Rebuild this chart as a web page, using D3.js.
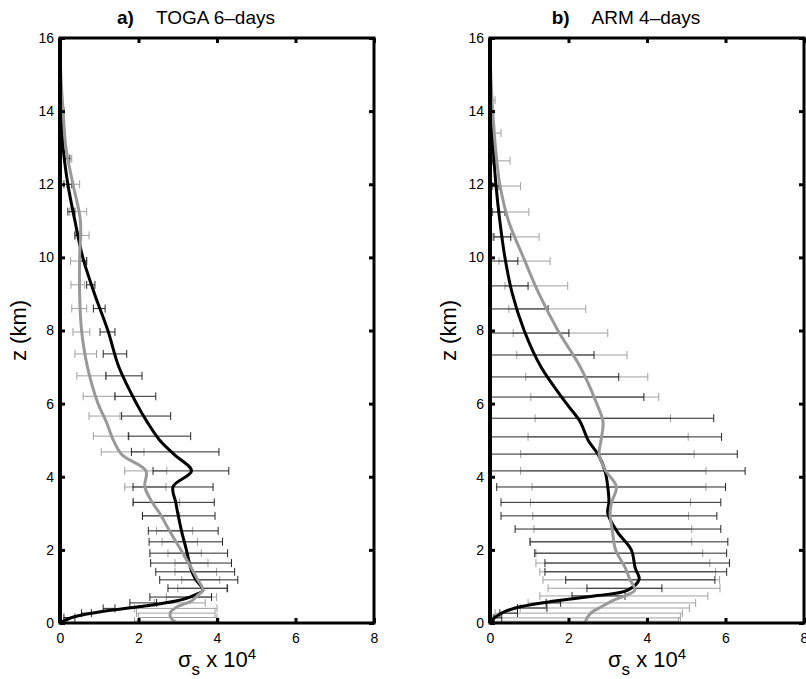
<!DOCTYPE html>
<html lang="en">
<head>
<meta charset="UTF-8">
<title>sigma_s profiles</title>
<script src="https://cdnjs.cloudflare.com/ajax/libs/d3/7.8.5/d3.min.js"></script>
<style>
    body { margin: 0; background: #fff; }
    text { font-family: "Liberation Sans", Arial, sans-serif; fill: #000; }
</style>
</head>
<body>
<div id="chart"></div>
<script>
// ---- data ----
var lineZ = [16, 15, 14, 13, 12, 11, 10, 9, 8, 7, 6, 5.5, 5, 4.6, 4.16, 3.73, 3.3, 3.0, 2.5, 2.0, 1.5, 1.2, 0.9, 0.75, 0.6, 0.45, 0.3, 0.15, 0];

var togaBlack = [0, 0.01, 0.03, 0.08, 0.2, 0.38, 0.58, 0.88, 1.22, 1.5, 1.95, 2.22, 2.54, 2.92, 3.35, 2.88, 2.95, 3.0, 3.1, 3.22, 3.33, 3.45, 3.64, 3.4, 2.95, 2.04, 1.0, 0.3, 0];
var togaGray  = [0, 0.02, 0.08, 0.15, 0.33, 0.52, 0.5, 0.5, 0.55, 0.7, 0.97, 1.18, 1.36, 1.58, 2.19, 2.16, 2.35, 2.54, 2.8, 3.08, 3.35, 3.5, 3.64, 3.5, 3.35, 3.0, 2.82, 2.82, 2.97];

var armBlack = [0, 0.01, 0.02, 0.08, 0.15, 0.25, 0.38, 0.57, 0.87, 1.3, 1.95, 2.3, 2.5, 2.76, 2.93, 3.0, 3.03, 3.0, 3.24, 3.6, 3.7, 3.8, 3.51, 2.75, 1.65, 0.8, 0.35, 0.12, 0];
var armGray  = [0, 0.02, 0.07, 0.14, 0.25, 0.47, 0.85, 1.25, 1.73, 2.3, 2.72, 2.88, 2.83, 2.78, 2.95, 3.22, 3.1, 3.06, 3.12, 3.2, 3.45, 3.56, 3.69, 3.45, 3.1, 2.85, 2.6, 2.48, 2.42];

// error bar levels and ranges
var togaBarZ     = [14.0, 12.7, 12.0, 11.25, 10.6, 9.9, 9.25, 8.6, 7.96, 7.36, 6.76, 6.2, 5.66, 5.11, 4.68, 4.16, 3.72, 3.3, 2.93, 2.52, 2.22, 1.91, 1.64, 1.4, 1.18, 0.95, 0.71, 0.55, 0.4, 0.27, 0.15, 0.05];
var togaBlackLo  = [0.0, 0.1, 0.1, 0.2, 0.38, 0.5, 0.68, 0.85, 1.02, 1.1, 1.17, 1.4, 1.57, 1.74, 1.82, 2.37, 1.86, 1.86, 2.1, 2.25, 2.27, 2.29, 2.31, 2.44, 2.54, 2.75, 2.29, 1.78, 1.1, 0.55, 0.1, 0.02];
var togaBlackHi  = [0.1, 0.25, 0.3, 0.38, 0.55, 0.68, 0.89, 1.15, 1.4, 1.7, 2.09, 2.44, 2.82, 3.33, 4.05, 4.3, 3.9, 3.93, 3.95, 4.03, 4.14, 4.27, 4.37, 4.45, 4.53, 4.27, 3.86, 2.46, 1.4, 0.8, 0.38, 0.1];
var togaGrayLo   = [0.0, 0.13, 0.17, 0.25, 0.38, 0.27, 0.28, 0.3, 0.33, 0.38, 0.43, 0.59, 0.74, 0.85, 1.05, 1.65, 1.65, 1.87, 2.1, 2.46, 2.6, 2.75, 2.93, 2.93, 3.1, 3.0, 2.71, 2.4, 1.9, 1.95, 2.0, 1.9];
var togaGrayHi   = [0.08, 0.3, 0.5, 0.68, 0.74, 0.68, 0.63, 0.68, 0.76, 0.93, 1.17, 1.4, 1.53, 1.76, 2.14, 2.72, 2.7, 3.05, 3.05, 3.38, 3.5, 3.6, 3.77, 3.99, 4.07, 4.24, 3.99, 3.7, 4.0, 3.95, 4.0, 4.05];

var armBarZ      = [14.3, 13.4, 12.64, 11.95, 11.24, 10.56, 9.9, 9.22, 8.59, 7.93, 7.33, 6.73, 6.18, 5.6, 5.09, 4.62, 4.16, 3.72, 3.3, 2.93, 2.57, 2.22, 1.91, 1.64, 1.4, 1.18, 0.95, 0.74, 0.55, 0.41, 0.27, 0.14, 0.05];
var armBlackLo   = [0.0, 0.0, 0.05, 0.05, 0.05, 0.1, -0.3, -0.3, -0.3, -0.3, -0.3, -0.3, -0.3, -0.3, -0.3, -0.3, -0.3, 0.17, 0.28, 0.28, 0.64, 1.02, 1.14, 1.4, 1.4, 1.93, 2.47, 2.09, 1.43, 0.7, 0.25, 0.1, 0.02];
var armBlackHi   = [0.05, 0.1, 0.15, 0.23, 0.38, 0.53, 0.71, 0.97, 1.48, 2.01, 2.65, 3.28, 3.92, 5.7, 5.9, 6.3, 6.5, 6.0, 5.88, 5.78, 5.88, 6.06, 6.03, 6.1, 6.03, 5.73, 4.38, 3.44, 1.8, 1.45, 0.7, 0.3, 0.1];
var armGrayLo    = [0.02, 0.05, 0.05, 0.07, 0.07, 0.07, 0.23, 0.38, 0.48, 0.59, 0.68, 0.91, 1.04, 1.15, 0.97, 0.78, 0.78, 1.07, 1.03, 1.09, 1.12, 1.02, 1.17, 1.17, 1.27, 1.35, 1.48, 1.27, 0.97, 0.77, 0.13, 0.05, 0.02];
var armGrayHi    = [0.13, 0.28, 0.51, 0.78, 0.99, 1.25, 1.53, 1.98, 2.44, 3.0, 3.49, 4.02, 4.3, 4.6, 5.05, 5.2, 5.5, 5.5, 5.11, 5.06, 5.14, 5.14, 5.42, 5.6, 5.75, 5.85, 5.86, 5.55, 5.24, 5.08, 4.9, 4.85, 4.8];

var xTicks = [0, 2, 4, 6, 8];
var yTicks = [0, 2, 4, 6, 8, 10, 12, 14, 16];

var panels = [
    { id: 'a', tag: 'a)', name: 'TOGA 6\u2013days', left: 60,
      black: togaBlack, gray: togaGray,
      barZ: togaBarZ, bLo: togaBlackLo, bHi: togaBlackHi, gLo: togaGrayLo, gHi: togaGrayHi },
    { id: 'b', tag: 'b)', name: 'ARM 4\u2013days', left: 490,
      black: armBlack, gray: armGray,
      barZ: armBarZ, bLo: armBlackLo, bHi: armBlackHi, gLo: armGrayLo, gHi: armGrayHi }
];

var w = 806, h = 679,
    pw = 314, padTop = 38, padBottom = 623,
    grayCol = '#a0a0a0', capH = 4;

var svg = d3.select('#chart').append('svg')
    .attr('width', w).attr('height', h);

panels.forEach(function (p) {
    var ih = padBottom - padTop;
    var x = d3.scaleLinear().domain([0, 8]).range([0, pw]);
    var y = d3.scaleLinear().domain([0, 16]).range([ih, 0]);

    var g = svg.append('g').attr('transform', 'translate(' + p.left + ',' + padTop + ')');

    g.append('clipPath').attr('id', 'clip-' + p.id)
        .append('rect').attr('width', pw).attr('height', ih);

    var plot = g.append('g').attr('clip-path', 'url(#clip-' + p.id + ')');

    // error bars: gray then black
    function bars(lo, hi, col, sw) {
        var bg = plot.append('g').attr('stroke', col).attr('stroke-width', sw).attr('fill', 'none');
        p.barZ.forEach(function (z, i) {
            var yy = y(z), x1 = x(lo[i]), x2 = x(hi[i]);
            bg.append('line').attr('x1', x1).attr('x2', x2).attr('y1', yy).attr('y2', yy);
            bg.append('line').attr('x1', x1).attr('x2', x1).attr('y1', yy - capH).attr('y2', yy + capH);
            bg.append('line').attr('x1', x2).attr('x2', x2).attr('y1', yy - capH).attr('y2', yy + capH);
        });
    }
    bars(p.gLo, p.gHi, grayCol, 1);
    bars(p.bLo, p.bHi, '#111', 0.9);

    var line = function (vals) {
        return d3.line()
            .x(function (d, i) { return x(vals[i]); })
            .y(function (d) { return y(d); })
            .curve(d3.curveCatmullRom.alpha(0.5))(lineZ);
    };
    plot.append('path').attr('d', line(p.black))
        .attr('fill', 'none').attr('stroke', '#000').attr('stroke-width', 3);
    plot.append('path').attr('d', line(p.gray))
        .attr('fill', 'none').attr('stroke', '#999').attr('stroke-width', 3);

    // axes with inward ticks
    var tickStyle = function (sel) {
        sel.select('.domain').remove();
        sel.selectAll('.tick line').attr('stroke', '#000').attr('stroke-width', 3);
        sel.selectAll('.tick text').style('font-family', '"Liberation Sans", Arial, sans-serif')
            .style('font-size', '14px').attr('fill', '#000');
    };
    g.append('g').attr('transform', 'translate(0,' + ih + ')')
        .call(d3.axisBottom(x).tickValues(xTicks).tickSize(-5).tickPadding(10).tickFormat(d3.format('d')))
        .call(tickStyle);
    g.append('g')
        .call(d3.axisTop(x).tickValues(xTicks).tickSize(-5).tickFormat(''))
        .call(tickStyle);
    g.append('g')
        .call(d3.axisLeft(y).tickValues(yTicks).tickSize(-5).tickPadding(6).tickFormat(d3.format('d')))
        .call(tickStyle);
    g.append('g').attr('transform', 'translate(' + pw + ',0)')
        .call(d3.axisRight(y).tickValues(yTicks).tickSize(-5).tickFormat(''))
        .call(tickStyle);

    // frame
    g.append('rect').attr('width', pw).attr('height', ih)
        .attr('fill', 'none').attr('stroke', '#000').attr('stroke-width', 3);
    g.append('line').attr('x1', 0).attr('x2', 0).attr('y1', 0).attr('y2', ih)
        .attr('stroke', '#000').attr('stroke-width', 4);

    // title
    var t = g.append('text').attr('x', 136).attr('y', -14)
        .attr('text-anchor', 'middle').style('font-size', '19px');
    t.append('tspan').style('font-weight', 'bold').text(p.tag);
    t.append('tspan').attr('dx', 22).text(p.name);

    // y label
    g.append('text')
        .attr('transform', 'translate(-34,' + ih / 2 + ') rotate(-90)')
        .attr('text-anchor', 'middle').style('font-size', '22px')
        .text('z (km)');

    // x label: sigma_s x 10^4
    var xl = g.append('text').attr('x', x(4)).attr('y', ih + 44)
        .attr('text-anchor', 'middle').style('font-size', '22px');
    xl.append('tspan').text('\u03c3');
    xl.append('tspan').attr('dy', 8).style('font-size', '17px').text('s');
    xl.append('tspan').attr('dy', -8).text(' x 10');
    xl.append('tspan').attr('dy', -8).style('font-size', '15px').text('4');
});
</script>
</body>
</html>
